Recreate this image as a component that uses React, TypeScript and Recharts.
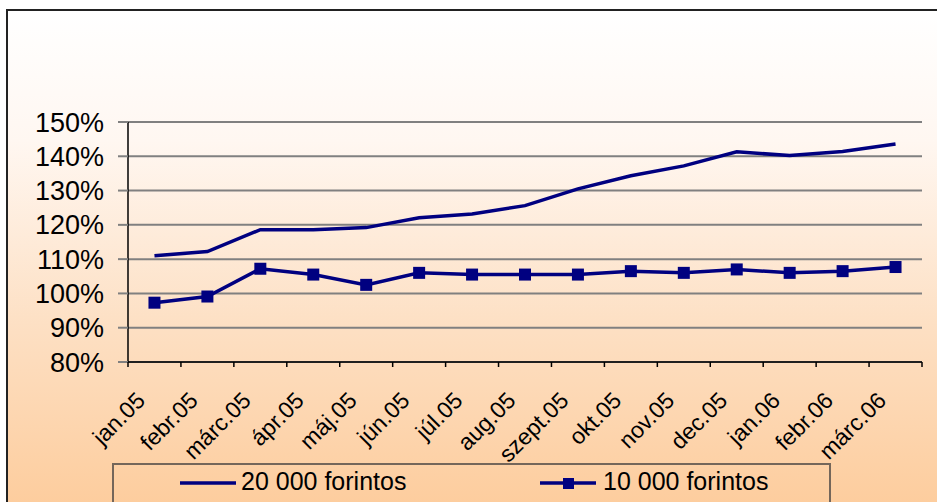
import { LineChart, Line, XAxis, YAxis, CartesianGrid } from 'recharts';

const months = [
  'jan.05', 'febr.05', 'márc.05', 'ápr.05', 'máj.05', 'jún.05', 'júl.05', 'aug.05',
  'szept.05', 'okt.05', 'nov.05', 'dec.05', 'jan.06', 'febr.06', 'márc.06',
];
const forint20000 = [111.0, 112.2, 118.6, 118.6, 119.2, 122.1, 123.2, 125.6, 130.5, 134.3, 137.2, 141.3, 140.2, 141.4, 143.6];
const forint10000 = [97.3, 99.1, 107.2, 105.5, 102.5, 106.0, 105.5, 105.5, 105.5, 106.5, 106.0, 107.0, 106.0, 106.5, 107.7];
const yTicks = [80, 90, 100, 110, 120, 130, 140, 150];

const seriesNames = ['20 000 forintos', '10 000 forintos'];

const data = months.map((m, i) => ({ month: m, a: forint20000[i], b: forint10000[i] }));

const NAVY = '#000080';
const FONT = '"Liberation Sans", Arial, sans-serif';

function MonthTick(props: any) {
  const { x, y, payload, index, visibleTicksCount, width } = props;
  const half = payload.offset || width / visibleTicksCount / 2;
  const last = index === visibleTicksCount - 1;
  const tx = x - 8;
  const ty = y + 40;
  return (
    <g>
      <line x1={x - half} x2={x - half} y1={y} y2={y + 5} stroke="#000" strokeWidth={1.5} />
      {last && <line x1={x + half} x2={x + half} y1={y} y2={y + 5} stroke="#000" strokeWidth={1.5} />}
      <text
        x={tx}
        y={ty}
        transform={`rotate(-45 ${tx} ${ty})`}
        textAnchor="end"
        fontSize={23}
        fontFamily={FONT}
        fill="#000"
      >
        {payload.value}
      </text>
    </g>
  );
}

function SquareDot(props: any) {
  const { cx, cy, index } = props;
  return <rect key={index} x={cx - 6} y={cy - 6} width={12} height={12} fill={NAVY} />;
}

export default function App() {
  return (
    <div style={{ position: 'absolute', left: 0, top: 0, width: 937, height: 502, overflow: 'hidden', background: '#fff' }}>
      <div
        style={{
          position: 'absolute',
          left: 6,
          top: 9,
          width: 980,
          height: 520,
          border: '2px solid #222',
          background: 'linear-gradient(to bottom, #ffffff 0%, #fff7f1 25%, #fde0c4 60%, #fdca98 100%)',
        }}
      />
      <div style={{ position: 'absolute', left: 0, top: 0 }}>
        <LineChart width={937} height={502} data={data} margin={{ top: 122, right: 15, left: 0, bottom: 0 }}>
          <CartesianGrid vertical={false} stroke="#808080" strokeWidth={2} />
          <XAxis
            dataKey="month"
            scale="band"
            interval={0}
            height={140}
            tickSize={0}
            tickMargin={0}
            tickLine={false}
            axisLine={{ stroke: '#000', strokeWidth: 1.5 }}
            tick={<MonthTick />}
          />
          <YAxis
            domain={[80, 150]}
            ticks={yTicks}
            interval={0}
            width={128}
            tickSize={10}
            tickMargin={14}
            tickFormatter={(v) => `${v}%`}
            axisLine={{ stroke: '#000', strokeWidth: 1.5 }}
            tickLine={{ stroke: '#808080', strokeWidth: 2 }}
            tick={{ fontSize: 27, fill: '#000', fontFamily: FONT }}
          />
          <YAxis
            yAxisId="frame"
            orientation="right"
            width={0}
            domain={[0, 1]}
            tick={false}
            tickLine={false}
            axisLine={{ stroke: '#8c8c8c', strokeWidth: 2 }}
          />
          <Line
            dataKey="a"
            name={seriesNames[0]}
            stroke={NAVY}
            strokeWidth={3.5}
            dot={false}
            type="linear"
            isAnimationActive={false}
          />
          <Line
            dataKey="b"
            name={seriesNames[1]}
            stroke={NAVY}
            strokeWidth={3.5}
            dot={<SquareDot />}
            type="linear"
            isAnimationActive={false}
          />
        </LineChart>
      </div>
      <div
        style={{
          position: 'absolute',
          left: 112,
          top: 463,
          width: 715,
          height: 80,
          border: '2px solid #74665a',
          fontFamily: FONT,
          fontSize: 25,
          color: '#000',
        }}
      >
        <svg width={60} height={20} style={{ position: 'absolute', left: 64, top: 8 }}>
          <line x1={2} x2={58} y1={10} y2={10} stroke={NAVY} strokeWidth={3.5} />
        </svg>
        <span style={{ position: 'absolute', left: 127, top: 2, whiteSpace: 'nowrap' }}>{seriesNames[0]}</span>
        <svg width={60} height={20} style={{ position: 'absolute', left: 424, top: 8 }}>
          <line x1={2} x2={58} y1={10} y2={10} stroke={NAVY} strokeWidth={3.5} />
          <rect x={25} y={5} width={11} height={11} fill={NAVY} />
        </svg>
        <span style={{ position: 'absolute', left: 489, top: 2, whiteSpace: 'nowrap' }}>{seriesNames[1]}</span>
      </div>
    </div>
  );
}
